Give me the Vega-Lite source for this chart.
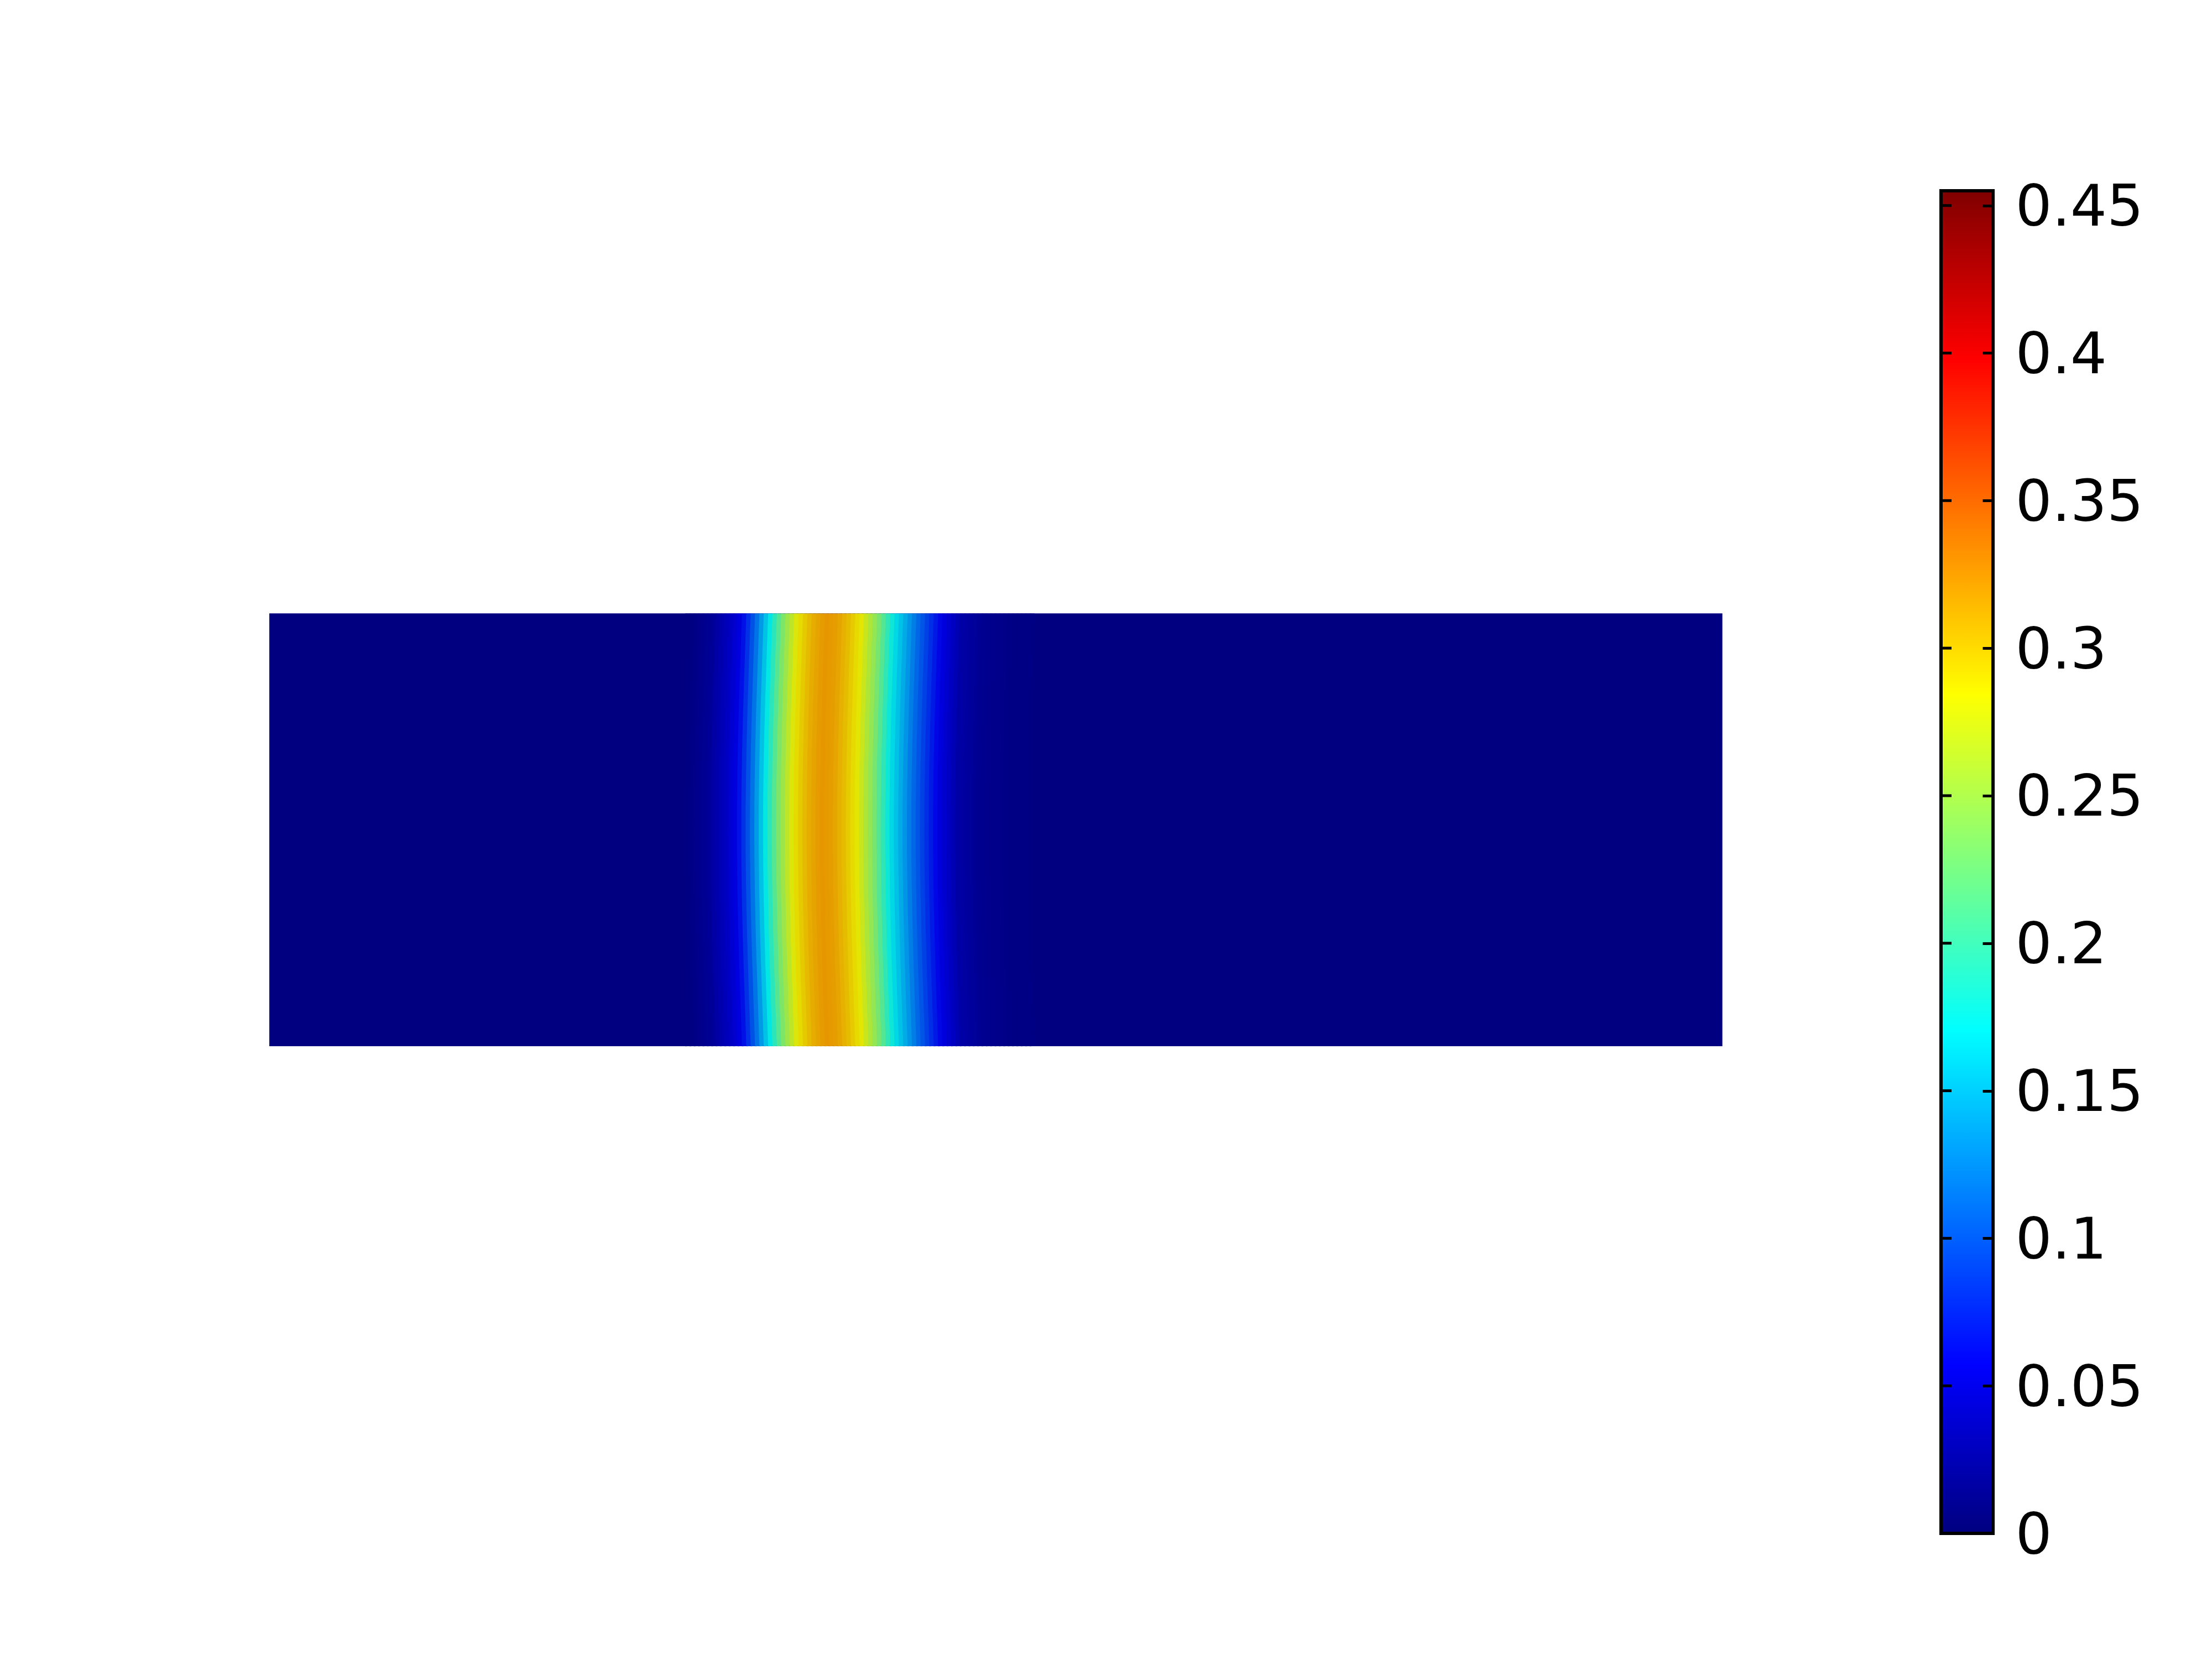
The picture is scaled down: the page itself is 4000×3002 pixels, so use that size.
{
  "$schema": "https://vega.github.io/schema/vega-lite/v6.json",
  "background": "white",
  "autosize": {"type": "none"},
  "padding": {"left": 487, "top": 345, "right": 396, "bottom": 229},
  "width": 3117,
  "height": 2428,
  "config": {"view": {"stroke": null}, "font": "DejaVu Sans"},
  "layer": [
    {
      "layer": [
        {
          "data": {"values": [{"x0": 0, "x1": 10, "y0": 0, "y1": 3, "v": 0}]},
          "mark": {"type": "rect"},
          "encoding": {
            "x": {"field": "x0", "type": "quantitative", "scale": {"domain": [0, 11.8625], "nice": false, "zero": false}, "axis": null},
            "x2": {"field": "x1"},
            "y": {"field": "y0", "type": "quantitative", "scale": {"domain": [-3.3768, 5.9296], "nice": false, "zero": false}, "axis": null},
            "y2": {"field": "y1"},
            "color": {"field": "v", "type": "quantitative", "legend": null,
              "scale": {"domain": [0, 0.455], "interpolate": "rgb", "range": ["#000080", "#0000e6", "#0073e6", "#00e6e6", "#73e673", "#e6e600", "#e67300", "#e60000", "#730000"]}}
          }
        },
        {
          "data": {"values": [
{"c":1,"x":2.88,"y":3,"v":0.0006},{"c":1,"x":2.845,"y":1.5,"v":0.0006},{"c":1,"x":2.88,"y":0,"v":0.0006},
{"c":2,"x":2.91,"y":3,"v":0.0015},{"c":2,"x":2.875,"y":1.5,"v":0.0015},{"c":2,"x":2.91,"y":0,"v":0.0015},
{"c":3,"x":2.94,"y":3,"v":0.0037},{"c":3,"x":2.905,"y":1.5,"v":0.0037},{"c":3,"x":2.94,"y":0,"v":0.0037},
{"c":4,"x":2.97,"y":3,"v":0.006},{"c":4,"x":2.935,"y":1.5,"v":0.006},{"c":4,"x":2.97,"y":0,"v":0.006},
{"c":5,"x":3.0,"y":3,"v":0.0083},{"c":5,"x":2.965,"y":1.5,"v":0.0083},{"c":5,"x":3.0,"y":0,"v":0.0083},
{"c":6,"x":3.03,"y":3,"v":0.0106},{"c":6,"x":2.995,"y":1.5,"v":0.0106},{"c":6,"x":3.03,"y":0,"v":0.0106},
{"c":7,"x":3.06,"y":3,"v":0.0141},{"c":7,"x":3.025,"y":1.5,"v":0.0141},{"c":7,"x":3.06,"y":0,"v":0.0141},
{"c":8,"x":3.09,"y":3,"v":0.0199},{"c":8,"x":3.055,"y":1.5,"v":0.0199},{"c":8,"x":3.09,"y":0,"v":0.0199},
{"c":9,"x":3.12,"y":3,"v":0.0257},{"c":9,"x":3.085,"y":1.5,"v":0.0257},{"c":9,"x":3.12,"y":0,"v":0.0257},
{"c":10,"x":3.15,"y":3,"v":0.0315},{"c":10,"x":3.115,"y":1.5,"v":0.0315},{"c":10,"x":3.15,"y":0,"v":0.0315},
{"c":11,"x":3.18,"y":3,"v":0.0373},{"c":11,"x":3.145,"y":1.5,"v":0.0373},{"c":11,"x":3.18,"y":0,"v":0.0373},
{"c":12,"x":3.21,"y":3,"v":0.0445},{"c":12,"x":3.175,"y":1.5,"v":0.0445},{"c":12,"x":3.21,"y":0,"v":0.0445},
{"c":13,"x":3.24,"y":3,"v":0.0528},{"c":13,"x":3.205,"y":1.5,"v":0.0528},{"c":13,"x":3.24,"y":0,"v":0.0528},
{"c":14,"x":3.27,"y":3,"v":0.065},{"c":14,"x":3.235,"y":1.5,"v":0.065},{"c":14,"x":3.27,"y":0,"v":0.065},
{"c":15,"x":3.3,"y":3,"v":0.0811},{"c":15,"x":3.265,"y":1.5,"v":0.0811},{"c":15,"x":3.3,"y":0,"v":0.0811},
{"c":16,"x":3.33,"y":3,"v":0.0972},{"c":16,"x":3.295,"y":1.5,"v":0.0972},{"c":16,"x":3.33,"y":0,"v":0.0972},
{"c":17,"x":3.36,"y":3,"v":0.1139},{"c":17,"x":3.325,"y":1.5,"v":0.1139},{"c":17,"x":3.36,"y":0,"v":0.1139},
{"c":18,"x":3.39,"y":3,"v":0.1331},{"c":18,"x":3.355,"y":1.5,"v":0.1331},{"c":18,"x":3.39,"y":0,"v":0.1331},
{"c":19,"x":3.42,"y":3,"v":0.1524},{"c":19,"x":3.385,"y":1.5,"v":0.1524},{"c":19,"x":3.42,"y":0,"v":0.1524},
{"c":20,"x":3.45,"y":3,"v":0.1717},{"c":20,"x":3.415,"y":1.5,"v":0.1717},{"c":20,"x":3.45,"y":0,"v":0.1717},
{"c":21,"x":3.48,"y":3,"v":0.1919},{"c":21,"x":3.445,"y":1.5,"v":0.1919},{"c":21,"x":3.48,"y":0,"v":0.1919},
{"c":22,"x":3.51,"y":3,"v":0.2121},{"c":22,"x":3.475,"y":1.5,"v":0.2121},{"c":22,"x":3.51,"y":0,"v":0.2121},
{"c":23,"x":3.54,"y":3,"v":0.2323},{"c":23,"x":3.505,"y":1.5,"v":0.2323},{"c":23,"x":3.54,"y":0,"v":0.2323},
{"c":24,"x":3.57,"y":3,"v":0.2484},{"c":24,"x":3.535,"y":1.5,"v":0.2484},{"c":24,"x":3.57,"y":0,"v":0.2484},
{"c":25,"x":3.6,"y":3,"v":0.2639},{"c":25,"x":3.565,"y":1.5,"v":0.2639},{"c":25,"x":3.6,"y":0,"v":0.2639},
{"c":26,"x":3.63,"y":3,"v":0.2794},{"c":26,"x":3.595,"y":1.5,"v":0.2794},{"c":26,"x":3.63,"y":0,"v":0.2794},
{"c":27,"x":3.66,"y":3,"v":0.2897},{"c":27,"x":3.625,"y":1.5,"v":0.2897},{"c":27,"x":3.66,"y":0,"v":0.2897},
{"c":28,"x":3.69,"y":3,"v":0.298},{"c":28,"x":3.655,"y":1.5,"v":0.298},{"c":28,"x":3.69,"y":0,"v":0.298},
{"c":29,"x":3.72,"y":3,"v":0.3062},{"c":29,"x":3.685,"y":1.5,"v":0.3062},{"c":29,"x":3.72,"y":0,"v":0.3062},
{"c":30,"x":3.75,"y":3,"v":0.3124},{"c":30,"x":3.715,"y":1.5,"v":0.3124},{"c":30,"x":3.75,"y":0,"v":0.3124},
{"c":31,"x":3.78,"y":3,"v":0.3168},{"c":31,"x":3.745,"y":1.5,"v":0.3168},{"c":31,"x":3.78,"y":0,"v":0.3168},
{"c":32,"x":3.81,"y":3,"v":0.3212},{"c":32,"x":3.775,"y":1.5,"v":0.3212},{"c":32,"x":3.81,"y":0,"v":0.3212},
{"c":33,"x":3.84,"y":3,"v":0.3235},{"c":33,"x":3.805,"y":1.5,"v":0.3235},{"c":33,"x":3.84,"y":0,"v":0.3235},
{"c":34,"x":3.87,"y":3,"v":0.322},{"c":34,"x":3.835,"y":1.5,"v":0.322},{"c":34,"x":3.87,"y":0,"v":0.322},
{"c":35,"x":3.9,"y":3,"v":0.3206},{"c":35,"x":3.865,"y":1.5,"v":0.3206},{"c":35,"x":3.9,"y":0,"v":0.3206},
{"c":36,"x":3.93,"y":3,"v":0.3166},{"c":36,"x":3.895,"y":1.5,"v":0.3166},{"c":36,"x":3.93,"y":0,"v":0.3166},
{"c":37,"x":3.96,"y":3,"v":0.3107},{"c":37,"x":3.925,"y":1.5,"v":0.3107},{"c":37,"x":3.96,"y":0,"v":0.3107},
{"c":38,"x":3.99,"y":3,"v":0.305},{"c":38,"x":3.955,"y":1.5,"v":0.305},{"c":38,"x":3.99,"y":0,"v":0.305},
{"c":39,"x":4.02,"y":3,"v":0.2976},{"c":39,"x":3.985,"y":1.5,"v":0.2976},{"c":39,"x":4.02,"y":0,"v":0.2976},
{"c":40,"x":4.05,"y":3,"v":0.2904},{"c":40,"x":4.015,"y":1.5,"v":0.2904},{"c":40,"x":4.05,"y":0,"v":0.2904},
{"c":41,"x":4.08,"y":3,"v":0.2827},{"c":41,"x":4.045,"y":1.5,"v":0.2827},{"c":41,"x":4.08,"y":0,"v":0.2827},
{"c":42,"x":4.11,"y":3,"v":0.2698},{"c":42,"x":4.075,"y":1.5,"v":0.2698},{"c":42,"x":4.11,"y":0,"v":0.2698},
{"c":43,"x":4.14,"y":3,"v":0.2569},{"c":43,"x":4.105,"y":1.5,"v":0.2569},{"c":43,"x":4.14,"y":0,"v":0.2569},
{"c":44,"x":4.17,"y":3,"v":0.244},{"c":44,"x":4.135,"y":1.5,"v":0.244},{"c":44,"x":4.17,"y":0,"v":0.244},
{"c":45,"x":4.2,"y":3,"v":0.2298},{"c":45,"x":4.165,"y":1.5,"v":0.2298},{"c":45,"x":4.2,"y":0,"v":0.2298},
{"c":46,"x":4.23,"y":3,"v":0.2123},{"c":46,"x":4.195,"y":1.5,"v":0.2123},{"c":46,"x":4.23,"y":0,"v":0.2123},
{"c":47,"x":4.26,"y":3,"v":0.1949},{"c":47,"x":4.225,"y":1.5,"v":0.1949},{"c":47,"x":4.26,"y":0,"v":0.1949},
{"c":48,"x":4.29,"y":3,"v":0.1774},{"c":48,"x":4.255,"y":1.5,"v":0.1774},{"c":48,"x":4.29,"y":0,"v":0.1774},
{"c":49,"x":4.32,"y":3,"v":0.1639},{"c":49,"x":4.285,"y":1.5,"v":0.1639},{"c":49,"x":4.32,"y":0,"v":0.1639},
{"c":50,"x":4.35,"y":3,"v":0.1528},{"c":50,"x":4.315,"y":1.5,"v":0.1528},{"c":50,"x":4.35,"y":0,"v":0.1528},
{"c":51,"x":4.38,"y":3,"v":0.1416},{"c":51,"x":4.345,"y":1.5,"v":0.1416},{"c":51,"x":4.38,"y":0,"v":0.1416},
{"c":52,"x":4.41,"y":3,"v":0.1305},{"c":52,"x":4.375,"y":1.5,"v":0.1305},{"c":52,"x":4.41,"y":0,"v":0.1305},
{"c":53,"x":4.44,"y":3,"v":0.1193},{"c":53,"x":4.405,"y":1.5,"v":0.1193},{"c":53,"x":4.44,"y":0,"v":0.1193},
{"c":54,"x":4.47,"y":3,"v":0.1084},{"c":54,"x":4.435,"y":1.5,"v":0.1084},{"c":54,"x":4.47,"y":0,"v":0.1084},
{"c":55,"x":4.5,"y":3,"v":0.0987},{"c":55,"x":4.465,"y":1.5,"v":0.0987},{"c":55,"x":4.5,"y":0,"v":0.0987},
{"c":56,"x":4.53,"y":3,"v":0.089},{"c":56,"x":4.495,"y":1.5,"v":0.089},{"c":56,"x":4.53,"y":0,"v":0.089},
{"c":57,"x":4.56,"y":3,"v":0.0793},{"c":57,"x":4.525,"y":1.5,"v":0.0793},{"c":57,"x":4.56,"y":0,"v":0.0793},
{"c":58,"x":4.59,"y":3,"v":0.0696},{"c":58,"x":4.555,"y":1.5,"v":0.0696},{"c":58,"x":4.59,"y":0,"v":0.0696},
{"c":59,"x":4.62,"y":3,"v":0.0599},{"c":59,"x":4.585,"y":1.5,"v":0.0599},{"c":59,"x":4.62,"y":0,"v":0.0599},
{"c":60,"x":4.65,"y":3,"v":0.0518},{"c":60,"x":4.615,"y":1.5,"v":0.0518},{"c":60,"x":4.65,"y":0,"v":0.0518},
{"c":61,"x":4.68,"y":3,"v":0.0443},{"c":61,"x":4.645,"y":1.5,"v":0.0443},{"c":61,"x":4.68,"y":0,"v":0.0443},
{"c":62,"x":4.71,"y":3,"v":0.0369},{"c":62,"x":4.675,"y":1.5,"v":0.0369},{"c":62,"x":4.71,"y":0,"v":0.0369},
{"c":63,"x":4.74,"y":3,"v":0.0294},{"c":63,"x":4.705,"y":1.5,"v":0.0294},{"c":63,"x":4.74,"y":0,"v":0.0294},
{"c":64,"x":4.77,"y":3,"v":0.022},{"c":64,"x":4.735,"y":1.5,"v":0.022},{"c":64,"x":4.77,"y":0,"v":0.022},
{"c":65,"x":4.8,"y":3,"v":0.0194},{"c":65,"x":4.765,"y":1.5,"v":0.0194},{"c":65,"x":4.8,"y":0,"v":0.0194},
{"c":66,"x":4.83,"y":3,"v":0.0169},{"c":66,"x":4.795,"y":1.5,"v":0.0169},{"c":66,"x":4.83,"y":0,"v":0.0169},
{"c":67,"x":4.86,"y":3,"v":0.0143},{"c":67,"x":4.825,"y":1.5,"v":0.0143},{"c":67,"x":4.86,"y":0,"v":0.0143},
{"c":68,"x":4.89,"y":3,"v":0.0117},{"c":68,"x":4.855,"y":1.5,"v":0.0117},{"c":68,"x":4.89,"y":0,"v":0.0117},
{"c":69,"x":4.92,"y":3,"v":0.0092},{"c":69,"x":4.885,"y":1.5,"v":0.0092},{"c":69,"x":4.92,"y":0,"v":0.0092},
{"c":70,"x":4.95,"y":3,"v":0.0081},{"c":70,"x":4.915,"y":1.5,"v":0.0081},{"c":70,"x":4.95,"y":0,"v":0.0081},
{"c":71,"x":4.98,"y":3,"v":0.0072},{"c":71,"x":4.945,"y":1.5,"v":0.0072},{"c":71,"x":4.98,"y":0,"v":0.0072},
{"c":72,"x":5.01,"y":3,"v":0.0062},{"c":72,"x":4.975,"y":1.5,"v":0.0062},{"c":72,"x":5.01,"y":0,"v":0.0062},
{"c":73,"x":5.04,"y":3,"v":0.0053},{"c":73,"x":5.005,"y":1.5,"v":0.0053},{"c":73,"x":5.04,"y":0,"v":0.0053},
{"c":74,"x":5.07,"y":3,"v":0.0043},{"c":74,"x":5.035,"y":1.5,"v":0.0043},{"c":74,"x":5.07,"y":0,"v":0.0043},
{"c":75,"x":5.1,"y":3,"v":0.0034},{"c":75,"x":5.065,"y":1.5,"v":0.0034},{"c":75,"x":5.1,"y":0,"v":0.0034},
{"c":76,"x":5.13,"y":3,"v":0.0029},{"c":76,"x":5.095,"y":1.5,"v":0.0029},{"c":76,"x":5.13,"y":0,"v":0.0029},
{"c":77,"x":5.16,"y":3,"v":0.0026},{"c":77,"x":5.125,"y":1.5,"v":0.0026},{"c":77,"x":5.16,"y":0,"v":0.0026},
{"c":78,"x":5.19,"y":3,"v":0.0024},{"c":78,"x":5.155,"y":1.5,"v":0.0024},{"c":78,"x":5.19,"y":0,"v":0.0024},
{"c":79,"x":5.22,"y":3,"v":0.0022},{"c":79,"x":5.185,"y":1.5,"v":0.0022},{"c":79,"x":5.22,"y":0,"v":0.0022},
{"c":80,"x":5.25,"y":3,"v":0.002},{"c":80,"x":5.215,"y":1.5,"v":0.002},{"c":80,"x":5.25,"y":0,"v":0.002}
          ]},
          "mark": {"type": "line", "strokeWidth": 9, "interpolate": "natural", "strokeCap": "butt"},
          "encoding": {
            "x": {"field": "x", "type": "quantitative", "scale": {"domain": [0, 11.8625], "nice": false, "zero": false}, "axis": null},
            "y": {"field": "y", "type": "quantitative", "scale": {"domain": [-3.3768, 5.9296], "nice": false, "zero": false}, "axis": null},
            "color": {"field": "v", "type": "quantitative", "legend": null,
              "scale": {"domain": [0, 0.455], "interpolate": "rgb", "range": ["#000080", "#0000e6", "#0073e6", "#00e6e6", "#73e673", "#e6e600", "#e67300", "#e60000", "#730000"]}},
            "detail": {"field": "c", "type": "nominal"},
            "order": {"field": "y", "type": "quantitative"}
          }
        }
      ]
    },
    {
      "layer": [
        {
          "data": {"values": [{"lo": 0, "hi": 0.455}]},
          "mark": {"type": "rect", "stroke": "black", "strokeWidth": 6,
            "fill": {"gradient": "linear", "x1": 0, "y1": 1, "x2": 0, "y2": 0,
              "stops": [
                {"offset": 0, "color": "#000080"},
                {"offset": 0.125, "color": "#0000ff"},
                {"offset": 0.375, "color": "#00ffff"},
                {"offset": 0.625, "color": "#ffff00"},
                {"offset": 0.875, "color": "#ff0000"},
                {"offset": 1, "color": "#800000"}
              ]}},
          "encoding": {
            "x": {"datum": 0, "type": "quantitative", "scale": {"domain": [-32.16, 1], "nice": false, "zero": false}, "axis": null},
            "x2": {"datum": 1},
            "y": {"field": "lo", "type": "quantitative", "scale": {"domain": [0, 0.455], "nice": false, "zero": false},
              "axis": {"orient": "right", "title": null, "values": [0, 0.05, 0.1, 0.15, 0.2, 0.25, 0.3, 0.35, 0.4, 0.45],
                "format": ".2~f", "domain": false, "grid": false, "ticks": true, "tickSize": -19, "tickWidth": 5, "tickColor": "black",
                "labelFont": "DejaVu Sans", "labelFontSize": 104, "labelColor": "black", "labelPadding": 59, "labelLimit": 1000, "labelOffset": 5,
                "labelAlign": "left", "labelBaseline": "middle", "labelOverlap": false, "labelFlush": false, "zindex": 2}},
            "y2": {"field": "hi"}
          }
        },
        {
          "data": {"values": [{"t": 0.05}, {"t": 0.1}, {"t": 0.15}, {"t": 0.2}, {"t": 0.25}, {"t": 0.3}, {"t": 0.35}, {"t": 0.4}, {"t": 0.45}]},
          "mark": {"type": "tick", "orient": "horizontal", "size": 19, "thickness": 5, "color": "black", "opacity": 1},
          "encoding": {
            "x": {"datum": 0.101, "type": "quantitative", "scale": {"domain": [-32.16, 1], "nice": false, "zero": false}, "axis": null},
            "y": {"field": "t", "type": "quantitative", "scale": {"domain": [0, 0.455], "nice": false, "zero": false}}
          }
        }
      ]
    }
  ],
  "resolve": {"scale": {"x": "independent", "y": "independent", "color": "independent"}}
}
